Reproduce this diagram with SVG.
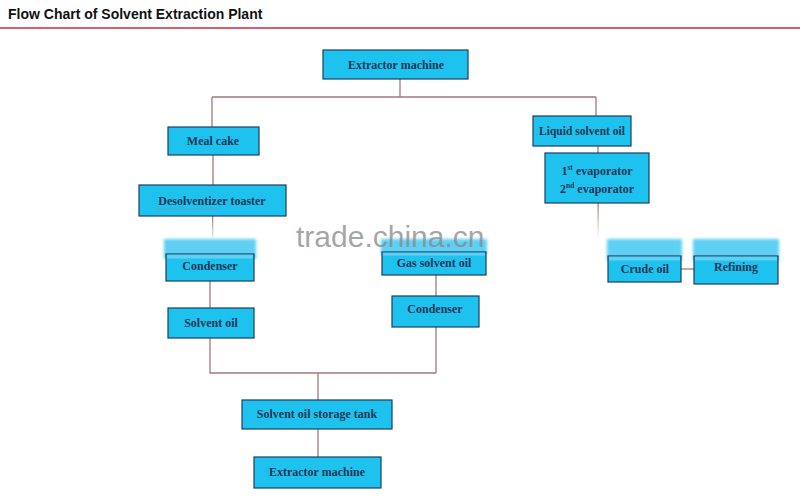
<svg xmlns="http://www.w3.org/2000/svg" width="800" height="501" viewBox="0 0 800 501">
<defs>
<style>
.box{fill:#1dc3ee;stroke:#1b3f5e;stroke-width:1.2}
.fade{fill:#5fd0f4;stroke:none}
.lbl{font-family:"Liberation Serif","Times New Roman",serif;font-weight:bold;font-size:12px;fill:#1c3658;text-anchor:middle}
.con{stroke:#a57878;stroke-width:1.3;fill:none}
</style>
<filter id="blur" x="-10%" y="-50%" width="120%" height="200%"><feGaussianBlur stdDeviation="1.5"/></filter>
<linearGradient id="fadeLine" x1="0" y1="0" x2="0" y2="1"><stop offset="0" stop-color="#a57878"/><stop offset="1" stop-color="#a57878" stop-opacity="0"/></linearGradient>
</defs>
<rect width="800" height="501" fill="#ffffff"/>
<text x="8" y="19" font-family="Liberation Sans,Arial,sans-serif" font-weight="bold" font-size="14" fill="#111">Flow Chart of Solvent Extraction Plant</text>
<line x1="0" y1="28" x2="800" y2="28" stroke="#c0303c" stroke-width="1.5"/>

<g id="connectors">
<path class="con" d="M400 79 V97 M212 97 H596 M212 97 V127 M596 97 V116"/>
<path class="con" d="M213 155 V185"/>
<rect x="212" y="216" width="1.3" height="24" fill="url(#fadeLine)"/>
<path class="con" d="M210 281 V308"/>
<path class="con" d="M210 338 V373 H436 M436 275 V296 M436 327 V373 M318 373 V400 M318 429 V457"/>
<path class="con" d="M598 146 V153"/>
<rect x="597.5" y="203" width="1.3" height="35" fill="url(#fadeLine)"/>
<path class="con" d="M681 269 H694"/>
</g>

<g id="extractor-top"><rect class="box" x="323" y="50" width="145" height="29"/><text class="lbl" x="396" y="69">Extractor machine</text></g>
<g id="meal-cake"><rect class="box" x="168" y="127" width="91" height="28"/><text class="lbl" x="213" y="145">Meal cake</text></g>
<g id="desolventizer"><rect class="box" x="139" y="185" width="147" height="31"/><text class="lbl" x="212" y="205">Desolventizer toaster</text>
<path d="M155 209 q1.5 -1.5 3 0 t3 0 t3 0 t3 0 t3 0 t3 0 t3 0 t3 0 t3 0 t3 0 t3 0 t3 0 t3 0 t3 0 t3 0 t3 0 t3 0 t3 0 t3 0 t3 0 t3 0" fill="none" stroke="#8a8aa8" stroke-width="0.6"/></g>
<g id="condenser-left"><rect class="fade" x="164" y="239" width="92" height="20" filter="url(#blur)"/><rect class="box" x="166" y="254" width="88" height="27"/><rect class="fade" x="167" y="254.6" width="86" height="4"/><text class="lbl" x="210" y="270">Condenser</text></g>
<g id="solvent-oil"><rect class="box" x="168" y="308" width="86" height="30"/><text class="lbl" x="211" y="327">Solvent oil</text></g>
<g id="gas-solvent-oil"><rect class="fade" x="381" y="239" width="106" height="16" filter="url(#blur)"/><rect class="box" x="382" y="252" width="104" height="23"/><rect class="fade" x="383" y="252.6" width="102" height="3"/><text class="lbl" x="434" y="267">Gas solvent oil</text></g>
<g id="condenser-right"><rect class="box" x="392" y="296" width="87" height="31"/><text class="lbl" x="435" y="313">Condenser</text></g>
<g id="storage-tank"><rect class="box" x="242" y="400" width="150" height="29"/><text class="lbl" x="317" y="418">Solvent oil storage tank</text></g>
<g id="extractor-bottom"><rect class="box" x="254" y="457" width="127" height="31"/><text class="lbl" x="317" y="476">Extractor machine</text></g>
<g id="liquid-solvent-oil"><rect class="box" x="533" y="116" width="98" height="30"/><text class="lbl" x="582" y="135" textLength="86" lengthAdjust="spacingAndGlyphs">Liquid solvent oil</text></g>
<g id="evaporators"><rect class="box" x="545" y="153" width="104" height="50"/>
<text class="lbl" x="597" y="175">1<tspan font-size="7.5" dy="-5">st</tspan><tspan dy="5"> evaporator</tspan></text>
<text class="lbl" x="597" y="193">2<tspan font-size="7.5" dy="-5">nd</tspan><tspan dy="5"> evaporator</tspan></text></g>
<g id="crude-oil"><rect class="fade" x="607" y="239" width="75" height="22" filter="url(#blur)"/><rect class="box" x="608" y="256" width="73" height="26"/><rect class="fade" x="609" y="256.6" width="71" height="4"/><text class="lbl" x="645" y="273">Crude oil</text></g>
<g id="refining"><rect class="fade" x="693" y="239" width="86" height="22" filter="url(#blur)"/><rect class="box" x="694" y="256" width="84" height="28"/><rect class="fade" x="695" y="256.6" width="82" height="4"/><text class="lbl" x="736" y="271">Refining</text></g>

<text x="296" y="247" font-family="Liberation Sans,Arial,sans-serif" font-size="30" fill="#888" fill-opacity="0.75">trade.china.cn</text>
</svg>
